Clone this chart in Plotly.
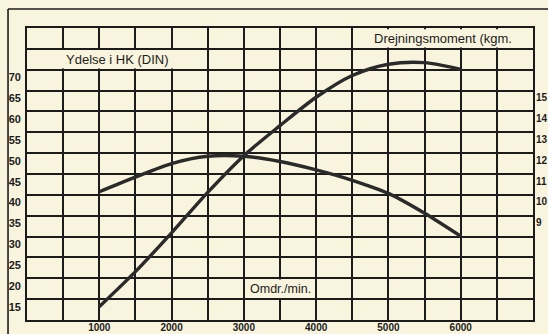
import plotly.graph_objects as go

# Data
rpm = [1000, 1500, 2000, 2500, 3000, 3500, 4000, 4500, 5000, 5500, 6000]
power_hp = [13.2, 21.6, 30.9, 40.6, 49.4, 56.6, 63.4, 68.6, 71.3, 71.7, 70.1]
torque_kgm = [10.15, 10.85, 11.5, 11.85, 11.85, 11.6, 11.2, 10.7, 10.07, 9.12, 8.02]

x_ticks = list(range(0, 7001, 500))
x_labels = [str(v) if v in (1000, 2000, 3000, 4000, 5000, 6000) else "" for v in x_ticks]
hp_ticks = list(range(10, 81, 5))
hp_labels = [str(v) if 15 <= v <= 70 else "" for v in hp_ticks]
kgm_ticks = [9, 10, 11, 12, 13, 14, 15]

title_power = "Ydelse i HK (DIN)"
title_torque = "Drejningsmoment (kgm."
title_rpm = "Omdr./min."

PAPER = "#f8f4dd"
INK = "#1c1c1c"
CURVE = "#2a2a2a"
FONT = "Liberation Sans, Arial, sans-serif"

fig = go.Figure()
fig.add_trace(go.Scatter(x=rpm, y=power_hp, mode="lines",
                         line=dict(color=CURVE, width=3.4, shape="spline", smoothing=0.8),
                         hoverinfo="skip", showlegend=False))
fig.add_trace(go.Scatter(x=rpm, y=torque_kgm, mode="lines", yaxis="y2",
                         line=dict(color=CURVE, width=3.4, shape="spline", smoothing=0.8),
                         hoverinfo="skip", showlegend=False))

grid = dict(showgrid=True, gridcolor=INK, gridwidth=1.6, zeroline=False,
            showline=True, linecolor=INK, linewidth=1.6, mirror=True, ticks="",
            automargin=False)

tf = dict(size=10, family=FONT, color=INK, weight="bold")
tf_left = dict(size=11, family=FONT, color=INK, weight="bold")

fig.update_layout(
    width=548, height=334,
    margin=dict(l=27, r=15, t=28, b=14),
    paper_bgcolor=PAPER, plot_bgcolor=PAPER,
    font=dict(family=FONT, color=INK),
    xaxis=dict(range=[0, 7000], tickvals=x_ticks, ticktext=x_labels,
               tickfont=tf, ticklabelstandoff=-3, **grid),
    yaxis=dict(range=[10, 80], tickvals=hp_ticks, ticktext=hp_labels,
               tickfont=tf_left, ticklabelposition="outside bottom", ticklabelstandoff=2, **grid),
    yaxis2=dict(range=[4, 18], overlaying="y", side="right", tickvals=kgm_ticks,
                showgrid=False, zeroline=False, ticks="", automargin=False,
                tickfont=tf, ticklabelposition="outside bottom", ticklabelstandoff=2),
)

# label boxes that interrupt the grid
def box(x0, x1, y0, y1):
    fig.add_shape(type="rect", xref="x", yref="y", x0=x0, x1=x1, y0=y0, y1=y1,
                  fillcolor=PAPER, line=dict(width=0), layer="between")

box(25, 2475, 70.3, 74.7)
box(4525, 6975, 75.3, 79.7)
box(3025, 3975, 15.3, 19.7)

fig.add_annotation(x=1250, y=72.5, xref="x", yref="y", text=title_power, showarrow=False,
                   font=dict(size=13, family=FONT, color=INK))
fig.add_annotation(x=5750, y=77.5, xref="x", yref="y", text=title_torque, showarrow=False,
                   font=dict(size=13, family=FONT, color=INK))
fig.add_annotation(x=3500, y=17.5, xref="x", yref="y", text=title_rpm, showarrow=False,
                   font=dict(size=12.5, family=FONT, color=INK))

# outer frame (left and top edges)
fig.add_shape(type="line", xref="paper", yref="paper", x0=-0.0375, x1=-0.0375, y0=-0.06, y1=1.065,
              line=dict(color=INK, width=1.6))
fig.add_shape(type="line", xref="paper", yref="paper", x0=-0.0375, x1=1.04, y0=1.065, y1=1.065,
              line=dict(color=INK, width=1.6))

fig.write_html("out.html", config={"displayModeBar": False},
               post_script="document.body.style.margin='0';document.body.style.overflow='hidden';")
